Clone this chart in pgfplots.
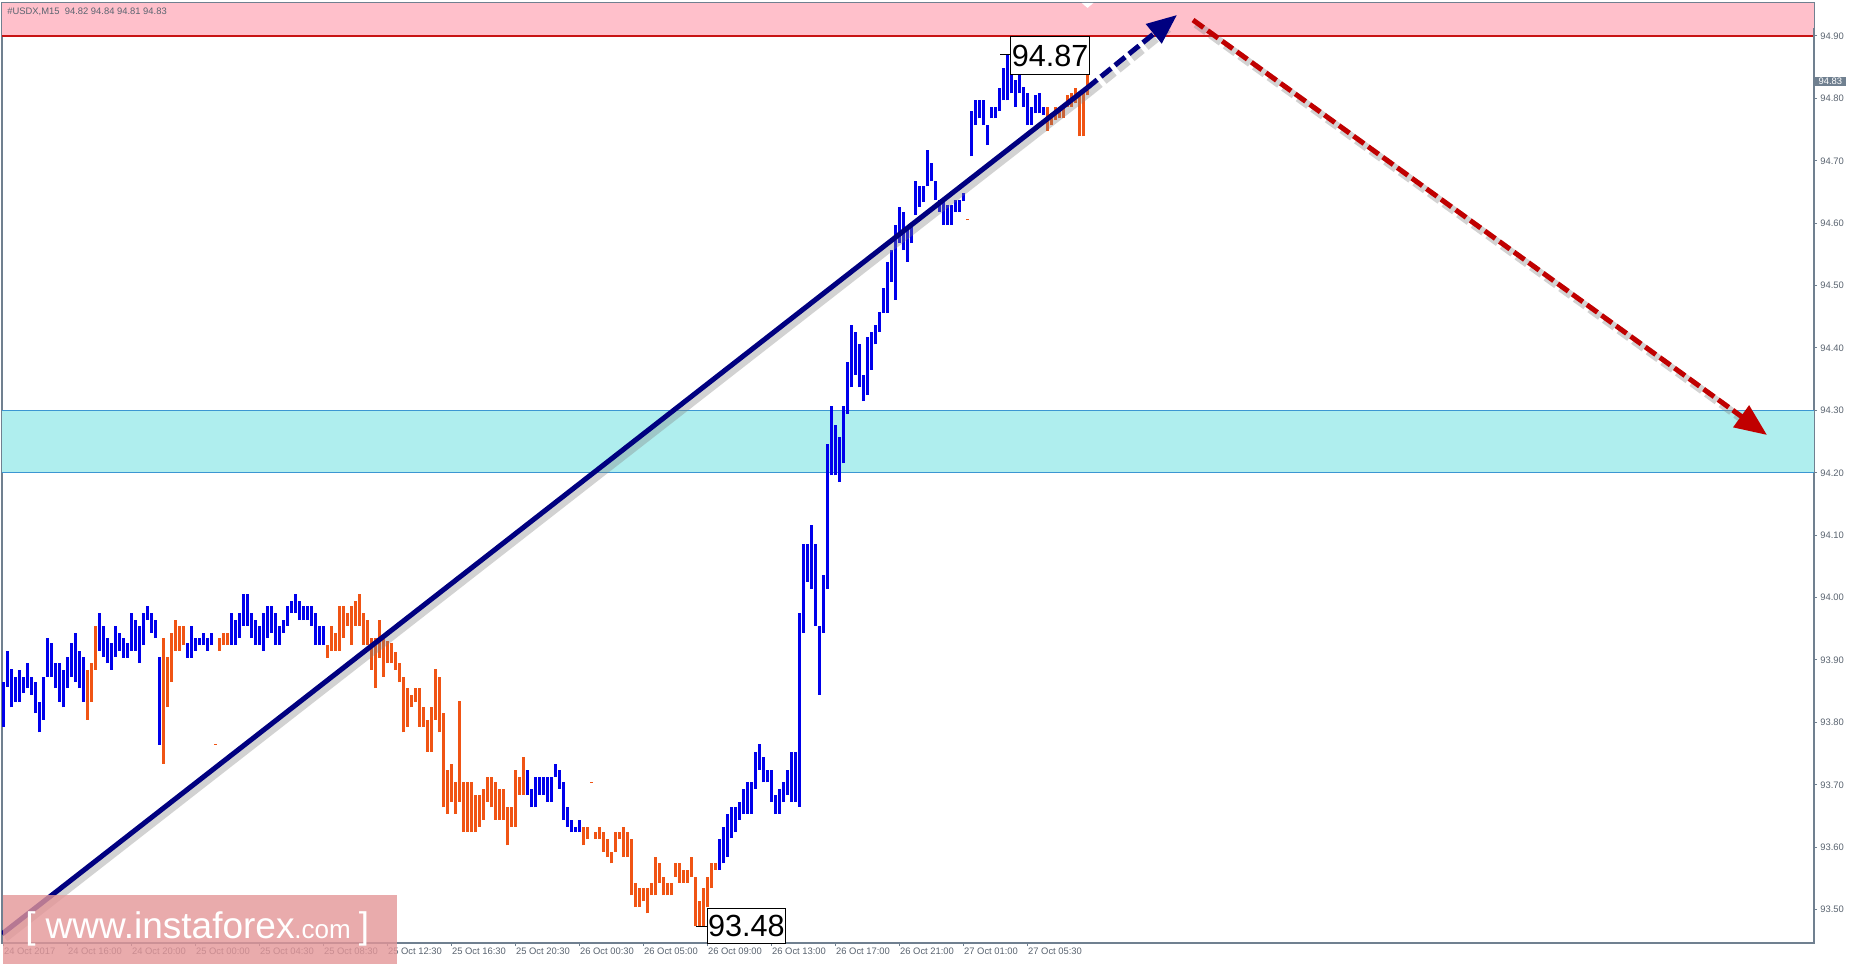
\documentclass[border=0pt]{standalone}
\usepackage{fontspec}
\setmainfont{Liberation Sans}
\usepackage{pgfplots}
\usepackage{pgfplotstable}
\pgfplotsset{compat=1.18}
\usetikzlibrary{arrows.meta}

\definecolor{barblue}{RGB}{0,0,235}
\definecolor{barorange}{RGB}{240,84,20}
\definecolor{zonepink}{RGB}{255,192,203}
\definecolor{zonecyan}{RGB}{175,238,238}
\definecolor{cyanline}{RGB}{60,150,210}
\definecolor{pinkline}{RGB}{200,20,20}
\definecolor{navyline}{RGB}{0,0,128}
\definecolor{redline}{RGB}{192,0,0}
\definecolor{axisgray}{RGB}{112,128,144}
\definecolor{labelgray}{RGB}{90,100,112}
\definecolor{wmark}{RGB}{228,150,152}

\pgfplotstableread{
k lo hi
0 93.793 93.865
1 93.857 93.915
2 93.824 93.885
3 93.833 93.873
4 93.833 93.884
5 93.847 93.873
6 93.855 93.895
7 93.844 93.873
8 93.815 93.865
9 93.784 93.833
10 93.804 93.873
11 93.873 93.935
12 93.873 93.927
13 93.855 93.895
14 93.833 93.895
15 93.824 93.884
16 93.855 93.905
17 93.873 93.927
18 93.865 93.944
19 93.855 93.915
20 93.833 93.905
24 93.915 93.975
25 93.905 93.955
26 93.895 93.935
27 93.884 93.927
28 93.905 93.955
29 93.915 93.944
30 93.904 93.935
31 93.904 93.927
32 93.915 93.975
33 93.915 93.964
34 93.895 93.955
35 93.924 93.975
36 93.964 93.986
37 93.944 93.975
38 93.935 93.964
39 93.764 93.905
46 93.904 93.927
47 93.904 93.955
48 93.915 93.935
49 93.924 93.935
50 93.924 93.944
51 93.915 93.935
52 93.924 93.944
57 93.924 93.975
58 93.924 93.964
59 93.935 93.975
60 93.955 94.006
61 93.955 94.006
62 93.935 93.975
63 93.924 93.964
64 93.924 93.955
65 93.915 93.975
66 93.935 93.986
67 93.944 93.986
68 93.924 93.975
69 93.924 93.955
70 93.944 93.964
71 93.955 93.986
72 93.975 93.995
73 93.975 94.006
74 93.964 93.995
75 93.964 93.986
76 93.964 93.986
77 93.955 93.986
78 93.924 93.975
79 93.924 93.955
80 93.924 93.955
131 93.684 93.724
132 93.664 93.694
133 93.664 93.713
134 93.684 93.713
135 93.684 93.713
136 93.673 93.713
137 93.673 93.713
138 93.713 93.734
139 93.694 93.724
140 93.644 93.704
141 93.633 93.664
142 93.624 93.644
143 93.624 93.633
144 93.624 93.644
179 93.564 93.613
180 93.574 93.633
181 93.584 93.654
182 93.614 93.664
183 93.624 93.664
184 93.644 93.673
185 93.654 93.694
186 93.654 93.704
187 93.654 93.704
188 93.694 93.753
189 93.724 93.765
190 93.704 93.744
191 93.704 93.724
192 93.673 93.724
193 93.654 93.684
194 93.654 93.694
195 93.673 93.704
196 93.684 93.724
197 93.673 93.753
198 93.673 93.753
199 93.665 93.975
200 93.944 94.086
201 94.025 94.086
202 94.014 94.116
203 93.955 94.086
204 93.844 93.955
205 93.944 94.036
206 94.014 94.246
207 94.196 94.307
208 94.196 94.277
209 94.185 94.257
210 94.215 94.307
211 94.295 94.377
212 94.337 94.437
213 94.357 94.426
214 94.337 94.406
215 94.315 94.357
216 94.325 94.417
217 94.365 94.426
218 94.406 94.437
219 94.426 94.457
220 94.456 94.496
221 94.456 94.538
222 94.506 94.557
223 94.477 94.597
224 94.568 94.626
225 94.557 94.618
226 94.538 94.589
227 94.568 94.597
228 94.613 94.667
229 94.626 94.659
230 94.634 94.659
231 94.659 94.717
232 94.667 94.696
233 94.637 94.667
234 94.618 94.637
235 94.597 94.637
236 94.597 94.629
237 94.597 94.629
238 94.618 94.637
239 94.618 94.637
240 94.635 94.648
242 94.707 94.779
243 94.757 94.797
244 94.768 94.797
245 94.757 94.797
246 94.725 94.757
247 94.768 94.787
248 94.768 94.787
249 94.779 94.816
250 94.797 94.848
251 94.797 94.870
252 94.808 94.846
253 94.787 94.830
254 94.808 94.856
255 94.787 94.819
256 94.757 94.808
257 94.757 94.787
258 94.776 94.805
259 94.776 94.808
260 94.773 94.787
}\bluebars

\pgfplotstableread{
k lo hi
21 93.804 93.884
22 93.833 93.895
23 93.884 93.955
40 93.734 93.935
41 93.824 93.905
42 93.865 93.944
43 93.915 93.964
44 93.915 93.955
45 93.924 93.955
53 93.764 93.766
54 93.915 93.935
55 93.924 93.944
56 93.924 93.944
81 93.904 93.924
82 93.915 93.955
83 93.915 93.944
84 93.915 93.986
85 93.935 93.986
86 93.955 93.975
87 93.924 93.986
88 93.955 93.995
89 93.955 94.006
90 93.924 93.975
91 93.924 93.964
92 93.884 93.935
93 93.855 93.935
94 93.904 93.964
95 93.873 93.940
96 93.895 93.930
97 93.895 93.927
98 93.884 93.913
99 93.864 93.895
100 93.784 93.873
101 93.793 93.855
102 93.824 93.844
103 93.833 93.855
104 93.793 93.855
105 93.793 93.824
106 93.753 93.804
107 93.753 93.824
108 93.804 93.885
109 93.784 93.873
110 93.664 93.815
111 93.654 93.724
112 93.673 93.734
113 93.654 93.705
114 93.673 93.834
115 93.624 93.705
116 93.624 93.705
117 93.624 93.704
118 93.624 93.684
119 93.633 93.684
120 93.644 93.694
121 93.673 93.713
122 93.664 93.713
123 93.644 93.704
124 93.644 93.694
125 93.644 93.694
126 93.603 93.664
127 93.633 93.664
128 93.633 93.724
129 93.684 93.713
130 93.684 93.744
145 93.603 93.633
146 93.613 93.633
147 93.703 93.705
148 93.613 93.624
149 93.613 93.633
150 93.593 93.624
151 93.584 93.613
152 93.574 93.593
153 93.593 93.624
154 93.613 93.624
155 93.584 93.633
156 93.584 93.624
157 93.523 93.613
158 93.504 93.543
159 93.504 93.534
160 93.513 93.534
161 93.494 93.534
162 93.523 93.543
163 93.523 93.584
164 93.543 93.574
165 93.523 93.553
166 93.523 93.543
167 93.523 93.543
168 93.553 93.574
169 93.543 93.574
170 93.543 93.564
171 93.543 93.564
172 93.553 93.584
173 93.473 93.553
174 93.473 93.513
175 93.473 93.534
176 93.504 93.553
177 93.534 93.574
178 93.564 93.574
241 94.605 94.607
261 94.747 94.787
262 94.757 94.776
263 94.765 94.787
264 94.768 94.787
265 94.768 94.787
266 94.787 94.805
267 94.787 94.808
268 94.792 94.816
269 94.739 94.805
270 94.739 94.808
271 94.805 94.838
}\orangebars

\begin{document}
\begin{tikzpicture}
\useasboundingbox (0,0) rectangle (928pt,482pt);
\fill[white] (0,0) rectangle (928pt,482pt);
\begin{axis}[
  at={(1pt,10.5pt)}, anchor=south west,
  scale only axis, width=906pt, height=470pt,
  xmin=-0.33, xmax=452.67, ymin=93.44647, ymax=94.95288,
  clip mode=individual,
  axis line style={axisgray, line width=0.6pt},
  ytick={93.5,93.6,93.7,93.8,93.9,94.0,94.1,94.2,94.3,94.4,94.5,94.6,94.7,94.8,94.9},
  yticklabels={93.50,93.60,93.70,93.80,93.90,94.00,94.10,94.20,94.30,94.40,94.50,94.60,94.70,94.80,94.90},
  ytick pos=right, yticklabel pos=right,
  xtick={0,16,32,48,64,80,96,112,128,144,160,176,192,208,224,240,256},
  xticklabels={24 Oct 2017,24 Oct 16:00,24 Oct 20:00,25 Oct 00:00,25 Oct 04:30,25 Oct 08:30,25 Oct 12:30,25 Oct 16:30,25 Oct 20:30,26 Oct 00:30,26 Oct 05:00,26 Oct 09:00,26 Oct 13:00,26 Oct 17:00,26 Oct 21:00,27 Oct 01:00,27 Oct 05:30},
  xtick pos=bottom,
  tick align=outside, major tick length=1.6pt,
  tick style={axisgray, line width=0.5pt},
  ticklabel style={font=\fontsize{4.7}{5}\selectfont, text=labelgray, inner sep=0pt},
  yticklabel style={anchor=west, xshift=1.4pt},
  xticklabel style={anchor=north west, xshift=0.2pt, yshift=-0.6pt},
]
% zones
\fill[zonepink] (axis cs:-0.33,94.90) rectangle (axis cs:452.67,94.95288);
\draw[pinkline, line width=0.6pt] (axis cs:-0.33,94.90) -- (axis cs:452.67,94.90);
\fill[zonecyan] (axis cs:-0.33,94.20) rectangle (axis cs:452.67,94.30);
\draw[cyanline, line width=0.5pt] (axis cs:-0.33,94.20) -- (axis cs:452.67,94.20);
\draw[cyanline, line width=0.5pt] (axis cs:-0.33,94.30) -- (axis cs:452.67,94.30);
\fill[white] (axis cs:269.6,94.9529) -- (axis cs:272.5,94.9529) -- (axis cs:271.05,94.945) -- cycle;

% bars
\addplot[draw=none, mark=none,
  error bars/.cd, y dir=plus, y explicit, error mark=none,
  error bar style={line width=1.4pt, draw=barblue, solid}]
  table[x=k, y=lo, y error plus expr=\thisrow{hi}-\thisrow{lo}] {\bluebars};
\addplot[draw=none, mark=none,
  error bars/.cd, y dir=plus, y explicit, error mark=none,
  error bar style={line width=1.4pt, draw=barorange, solid}]
  table[x=k, y=lo, y error plus expr=\thisrow{hi}-\thisrow{lo}] {\orangebars};

% shadows
\addplot[gray, opacity=0.35, line width=4pt, xshift=1.5pt, yshift=-2pt] coordinates {(-0.33,93.4609) (270.92,94.8167)};
\addplot[gray, opacity=0.35, line width=4pt, xshift=1.5pt, yshift=-2pt, dash pattern=on 6.5pt off 2.5pt] coordinates {(270.92,94.8167) (290.5,94.918)};
\addplot[gray, opacity=0.35, line width=4pt, xshift=1.5pt, yshift=-2pt, dash pattern=on 6.5pt off 2.5pt] coordinates {(297.42,94.9256) (437.5,94.276)};
% trend lines
\addplot[navyline, line width=2.5pt] coordinates {(-0.33,93.4609) (270.92,94.8167)};
\addplot[navyline, line width=2.5pt, dash pattern=on 6.5pt off 2.5pt, -{Triangle[length=15pt,width=12pt]}] coordinates {(270.92,94.8167) (293.42,94.9337)};
\addplot[redline, line width=2.5pt, dash pattern=on 6.5pt off 2.5pt, -{Triangle[length=16pt,width=13pt]}] coordinates {(297.42,94.9256) (440.92,94.2606)};

% price labels
\draw[black, line width=0.5pt] (axis cs:249.2,94.87) -- (axis cs:251.67,94.87);
\node[draw=black, fill=white, line width=0.6pt, inner sep=0pt, minimum width=39.5pt, minimum height=19pt, anchor=north west, font=\fontsize{15.3}{16}\selectfont] at (axis cs:251.67,94.90) {94.87};
\draw[black, line width=0.5pt] (axis cs:173.1,93.4726) -- (axis cs:175.84,93.4726);
\node[draw=black, fill=white, line width=0.6pt, inner sep=0pt, minimum width=39pt, minimum height=17.5pt, anchor=north west, font=\fontsize{15.3}{16}\selectfont] at (axis cs:175.84,93.5026) {93.48};

% right scale marker and current price
\fill[axisgray] (axis cs:452.34,94.38) rectangle (axis cs:453.0,94.913);
\node[fill=axisgray, text=white, inner sep=0pt, minimum width=16pt, minimum height=4.8pt, anchor=west, font=\fontsize{4.7}{5}\selectfont] at (axis cs:452.67,94.827) {94.83};
\end{axis}

\node[anchor=west, inner sep=0pt, text=labelgray, font=\fontsize{4.7}{5}\selectfont] at (3.5pt,476pt) {\#USDX,M15\ \ 94.82 94.84 94.81 94.83};

% watermark
\fill[wmark, fill opacity=0.8] (1.35pt,0pt) rectangle (198.5pt,34.5pt);
\node[anchor=base west, inner sep=0pt, text=white, font=\fontsize{18.5}{20}\selectfont] at (12.5pt,13pt) {[\hspace{5pt}www.instaforex{\fontsize{13}{14}\selectfont .com}\hspace{4pt}]};
\end{tikzpicture}
\end{document}
